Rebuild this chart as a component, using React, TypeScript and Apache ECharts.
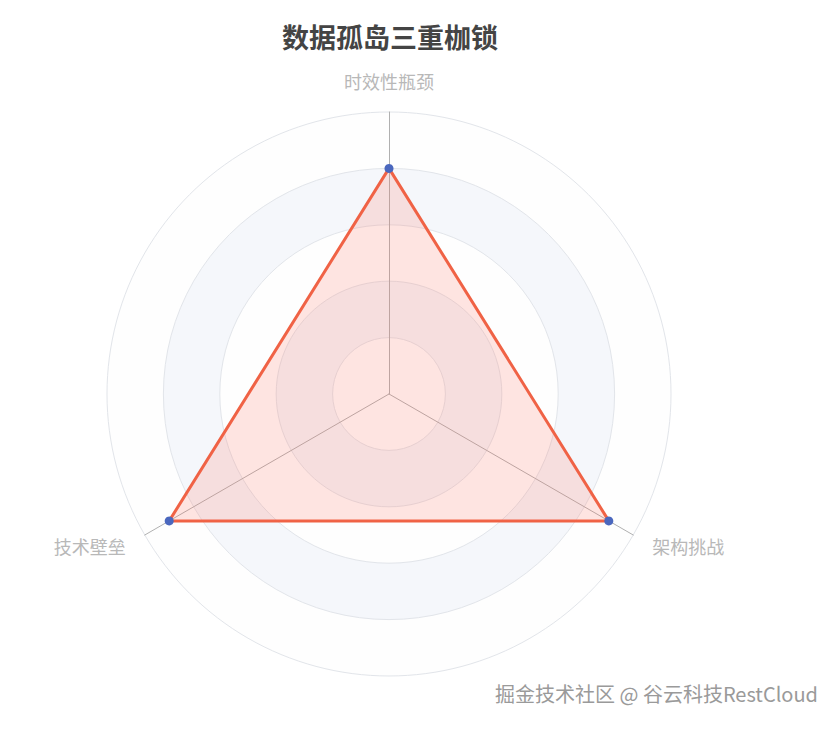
import React, { useEffect, useRef } from 'react'
import * as echarts from 'echarts'

const indicators = ['时效性瓶颈', '技术壁垒', '架构挑战']
const maxValues = [100, 100, 100]
const values = [80, 90, 90]
const title = '数据孤岛三重枷锁'
const watermark = '掘金技术社区 @ 谷云科技RestCloud'

export default function App() {
  const chartRef = useRef<HTMLDivElement>(null)

  useEffect(() => {
    document.body.style.margin = '0'
    if (!chartRef.current) return
    const chart = echarts.init(chartRef.current, undefined, { renderer: 'svg' })

    const option: echarts.EChartsOption = {
      animation: false,
      textStyle: { fontFamily: '"Noto Sans CJK SC", "Noto Sans", sans-serif' },
      title: {
        text: title,
        left: 385,
        textAlign: 'center',
        top: 18,
        textStyle: { fontSize: 27, fontWeight: 'bold', color: '#444444' }
      },
      radar: {
        center: [389, 394],
        radius: 282,
        shape: 'circle',
        splitNumber: 5,
        nameGap: 22,
        indicator: indicators.map((name, i) => ({ name, max: maxValues[i] })),
        axisName: { color: '#b8b8b8', fontSize: 18 },
        axisLine: { lineStyle: { color: '#b0b0b0' } },
        splitLine: { lineStyle: { color: '#e2e5ea' } },
        splitArea: {
          areaStyle: { color: ['rgba(252,252,252,0.3)', 'rgba(210,219,238,0.22)'] }
        }
      },
      series: [
        {
          type: 'radar',
          symbol: 'circle',
          symbolSize: 9,
          data: [
            {
              value: values,
              itemStyle: { color: '#4a67be' },
              lineStyle: { color: '#ef6244', width: 3 },
              areaStyle: { color: 'rgba(255,110,90,0.25)' }
            }
          ]
        }
      ],
      graphic: [
        {
          type: 'text',
          right: 20,
          top: 683,
          style: {
            text: watermark,
            fill: '#9a9a9a',
            fontSize: 20,
            fontFamily: '"Noto Sans CJK SC", sans-serif',
            shadowColor: 'rgba(0,0,0,0.45)',
            shadowBlur: 1,
            shadowOffsetX: 1,
            shadowOffsetY: 1
          }
        }
      ]
    }

    chart.setOption(option)
    return () => {
      chart.dispose()
    }
  }, [])

  return <div ref={chartRef} style={{ width: 838, height: 729 }} />
}
